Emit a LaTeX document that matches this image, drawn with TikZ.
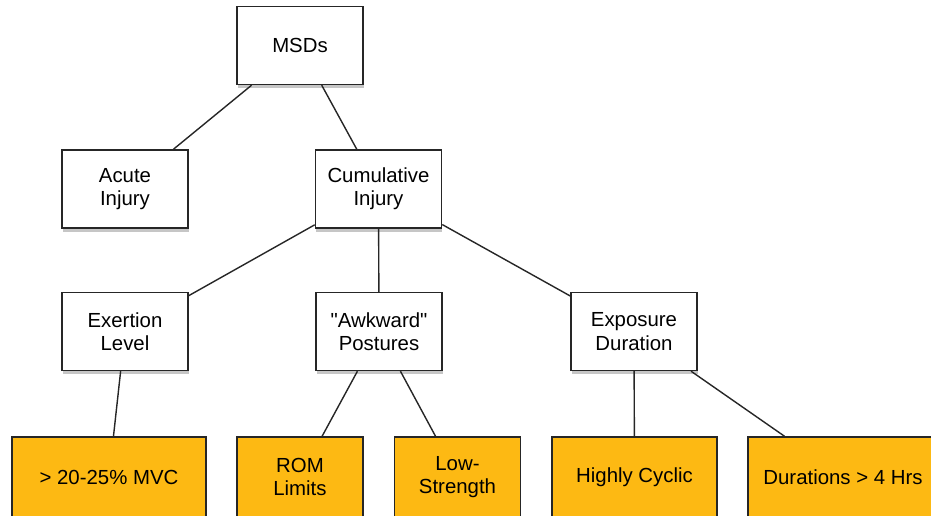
\documentclass[tikz,border=0pt]{standalone}
\usepackage{fontspec}
\setmainfont{Liberation Sans}
\usetikzlibrary{shadows}

\definecolor{leaforange}{RGB}{253,185,19}
\def\boxw{2.52cm}
\def\boxh{1.56cm}

\begin{document}
\begin{tikzpicture}[x=0.02cm,y=-0.02cm,
    box/.style={draw=black!85,line width=0.85pt,fill=white,
      minimum width=\boxw,minimum height=\boxh,align=center,inner sep=2pt,
      font=\fontsize{11.6}{13.3}\selectfont,
      drop shadow={shadow xshift=0.5pt,shadow yshift=-2pt,opacity=0.45}},
    leaf/.style={box,fill=leaforange,minimum height=1.6cm},
    link/.style={draw=black!85,line width=0.8pt}]

  \useasboundingbox (0,0) rectangle (931,516);

  \node[box] (msds) at (300,45.5) {MSDs};
  \node[box] (acute) at (125,189) {Acute\\Injury};
  \node[box] (cumul) at (378.5,189) {Cumulative\\Injury};
  \node[box] (exert) at (125,331.5) {Exertion\\Level};
  \node[box] (awk) at (379,331.5) {\textquotedbl Awkward\textquotedbl\\Postures};
  \node[box] (expo) at (634,331.5) {Exposure\\Duration};

  % orange leaves
  \node[leaf,minimum width=3.88cm] (mvc) at (109,477) {> 20-25\% MVC};
  \node[leaf] (rom) at (300,477) {ROM\\Limits};
  \node[leaf] (low) at (457.5,477) {Low-\\Strength};
  \node[leaf,minimum width=3.3cm] (cyc) at (634.5,477) {Highly Cyclic};
  \node[leaf,minimum width=3.8cm] (dur) at (843,477) {Durations > 4 Hrs};

  \foreach \a/\b in {msds/acute,msds/cumul,cumul/exert,cumul/awk,cumul/expo,
      exert/mvc,awk/rom,awk/low,expo/cyc,expo/dur}
    \draw[link] (\a) -- (\b);
\end{tikzpicture}
\end{document}
